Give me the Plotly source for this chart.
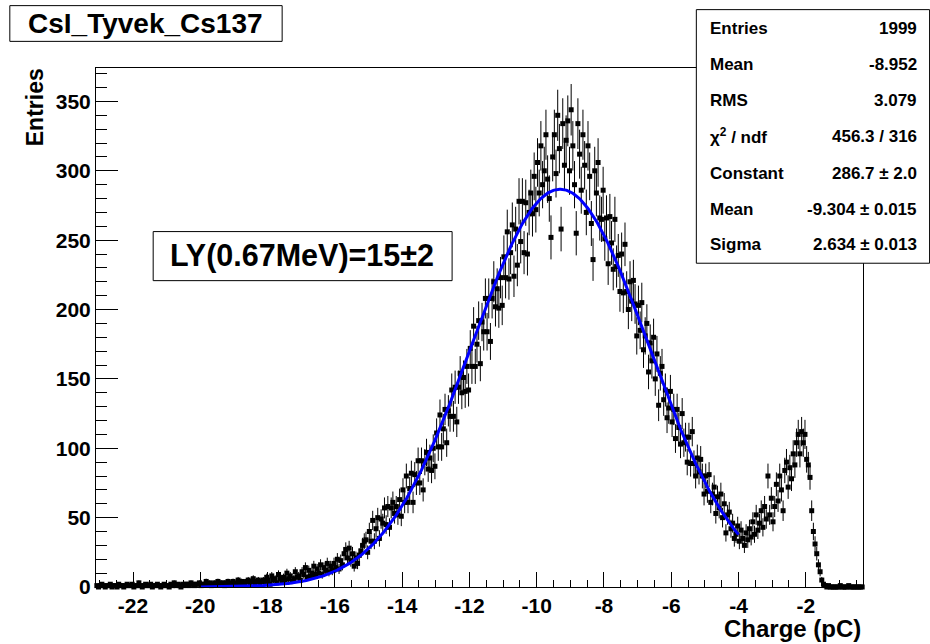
import numpy as np
import plotly.graph_objects as go

# ---------------- data ----------------
X_MIN = -23.1
X_MAX = -0.3
BIN_WIDTH = 0.05

# histogram contents, one row per 1 pC starting at X_MIN (20 bins of 0.05 pC each)
counts_rows = [
    [1, 0, 1, 2, 1, 0, 1, 1, 2, 0, 1, 1, 0, 2, 1, 1, 0, 1, 2, 1],
    [1, 2, 0, 1, 1, 3, 1, 0, 1, 2, 1, 1, 2, 0, 1, 1, 2, 1, 0, 1],
    [2, 1, 1, 0, 2, 1, 3, 1, 2, 1, 0, 2, 1, 2, 2, 1, 3, 2, 1, 2],
    [2, 3, 1, 2, 2, 4, 2, 3, 1, 2, 3, 2, 4, 3, 2, 3, 1, 3, 4, 2],
    [3, 4, 2, 3, 5, 3, 4, 3, 2, 4, 5, 3, 4, 6, 3, 4, 5, 3, 4, 5],
    [4, 7, 5, 2, 8, 5, 6, 3, 9, 6, 4, 7, 5, 10, 6, 8, 4, 6, 11, 7],
    [8, 5, 11, 9, 14, 7, 12, 8, 10, 15, 9, 13, 10, 16, 9, 14, 12, 17, 11, 15],
    [12, 17, 14, 20, 13, 19, 16, 24, 27, 21, 28, 19, 24, 15, 21, 17, 23, 26, 30, 33],
    [34, 25, 40, 33, 48, 33, 42, 50, 35, 49, 46, 57, 45, 58, 43, 57, 61, 53, 58, 52],
    [63, 51, 70, 61, 80, 61, 71, 82, 61, 81, 75, 91, 75, 91, 70, 90, 97, 85, 93, 84],
    [100, 87, 111, 101, 124, 101, 114, 128, 104, 127, 123, 142, 123, 144, 119, 144, 154, 140, 151, 141],
    [159, 142, 172, 159, 188, 159, 175, 192, 161, 191, 184, 208, 184, 208, 177, 208, 220, 202, 215, 201],
    [223, 203, 238, 223, 256, 222, 241, 261, 224, 258, 232, 278, 249, 278, 241, 277, 240, 270, 284, 269],
    [296, 272, 306, 284, 318, 290, 300, 326, 294, 280, 252, 310, 326, 298, 340, 316, 258, 334, 304, 322],
    [336, 300, 344, 318, 290, 255, 334, 312, 286, 326, 304, 270, 318, 296, 262, 236, 300, 284, 306, 266],
    [265, 286, 251, 266, 233, 267, 248, 229, 265, 231, 239, 213, 240, 212, 247, 213, 200, 220, 206, 221],
    [204, 181, 203, 185, 205, 171, 181, 190, 155, 176, 163, 180, 150, 168, 131, 154, 159, 135, 142, 122],
    [129, 141, 119, 128, 107, 128, 115, 103, 125, 104, 108, 90, 108, 89, 112, 89, 80, 93, 83, 92],
    [80, 67, 80, 69, 81, 61, 67, 72, 53, 65, 57, 67, 50, 60, 39, 52, 54, 42, 46, 35],
    [38, 44, 33, 41, 35, 30, 39, 34, 42, 36, 47, 38, 52, 41, 46, 55, 43, 58, 49, 80],
    [52, 64, 47, 58, 74, 62, 80, 70, 55, 84, 90, 72, 86, 78, 96, 88, 104, 110, 96, 112],
    [104, 110, 92, 88, 79, 55, 40, 31, 24, 16, 11, 5, 2, 1, 0, 1, 0, 0, 0, 0],
    [0, 0, 1, 0, 0, 0, 0, 1, 0, 0, 0, 0, 0, 0, 0, 0],
]

# Gaussian fit parameters (as given in the stats box)
FIT_CONSTANT = 286.7
FIT_MEAN = -9.304
FIT_SIGMA = 2.634
FIT_RANGE = (-20.0, -4.0)

x_tick_vals = [-22, -20, -18, -16, -14, -12, -10, -8, -6, -4, -2]
x_tick_text = ["-22", "-20", "-18", "-16", "-14", "-12", "-10", "-8", "-6", "-4", "-2"]
y_tick_vals = [0, 50, 100, 150, 200, 250, 300, 350]
y_tick_text = ["0", "50", "100", "150", "200", "250", "300", "350"]
Y_MAX = 374.1

title_text = "CsI_Tyvek_Cs137"
ly_text = "LY(0.67MeV)=15±2"
x_title = "Charge (pC)"
y_title = "Entries"
stat_labels = ["Entries", "Mean", "RMS", "χ<sup>2</sup> / ndf", "Constant", "Mean", "Sigma"]
stat_values = ["1999", "-8.952", "3.079", "456.3 / 316", "286.7 ± 2.0", "-9.304 ± 0.015", "2.634 ± 0.013"]

# ---------------- build ----------------
counts = np.array([v for row in counts_rows for v in row], dtype=float)
centers = X_MIN + BIN_WIDTH * (np.arange(len(counts)) + 0.5)
errors = np.sqrt(counts)

xf = np.linspace(FIT_RANGE[0], FIT_RANGE[1], 600)
yf = FIT_CONSTANT * np.exp(-0.5 * ((xf - FIT_MEAN) / FIT_SIGMA) ** 2)

W, H = 930, 644
L, R, T, B = 95.5, 862.7, 68.3, 586.7


def px(x):
    return (x - L) / (R - L)


def py(y):
    return (B - y) / (B - T)


FONT = "Liberation Sans, Arial, Helvetica, sans-serif"

fig = go.Figure()
fig.add_trace(go.Scatter(
    x=centers, y=counts, mode="markers",
    marker=dict(symbol="square", size=5, color="black", line=dict(width=0)),
    error_y=dict(type="data", array=errors, visible=True, width=0, thickness=1, color="black"),
    cliponaxis=False, hoverinfo="skip",
))
fig.add_trace(go.Scatter(
    x=xf, y=yf, mode="lines", line=dict(color="#0000ff", width=3), hoverinfo="skip",
))

axis_common = dict(
    showline=True, linecolor="black", linewidth=1, mirror=True,
    showgrid=False, zeroline=False, ticks="inside", tickcolor="black", tickwidth=1,
    tickfont=dict(family=FONT, size=21, color="black", weight="bold"),
)
fig.update_xaxes(
    range=[X_MIN, X_MAX], tickmode="array", tickvals=x_tick_vals, ticktext=x_tick_text,
    ticklen=15, minor=dict(tick0=-22, dtick=0.5, ticks="inside", ticklen=7.5,
                           tickcolor="black", tickwidth=1, showgrid=False),
    **axis_common,
)
fig.update_yaxes(
    range=[0, Y_MAX], tickmode="array", tickvals=y_tick_vals, ticktext=y_tick_text,
    ticklen=22.3, minor=dict(tick0=0, dtick=10, ticks="inside", ticklen=11.3,
                             tickcolor="black", tickwidth=1, showgrid=False),
    **axis_common,
)

shapes = []
for (x0, x1, y0, y1) in [(9.3, 281.7, 6.0, 41.7), (696.0, 929.3, 10.0, 263.3), (152.7, 451.7, 231.7, 280.7)]:
    shapes.append(dict(type="rect", xref="paper", yref="paper",
                       x0=px(x0), x1=px(x1), y0=py(y1), y1=py(y0),
                       line=dict(color="black", width=1), fillcolor="white", layer="above"))

annotations = [
    dict(text="<b>%s</b>" % title_text, x=px(145), y=py(24), xanchor="center", yanchor="middle",
         font=dict(family=FONT, size=28, color="black")),
    dict(text="<b>%s</b>" % ly_text, x=px(301.5), y=py(256), xanchor="center", yanchor="middle",
         font=dict(family=FONT, size=30.5, color="black")),
    dict(text="<b>%s</b>" % y_title, x=px(34), y=py(108), xanchor="center", yanchor="middle",
         textangle=-90, font=dict(family=FONT, size=23, color="black")),
    dict(text="<b>%s</b>" % x_title, x=px(862.7), y=py(628), xanchor="right", yanchor="middle",
         font=dict(family=FONT, size=24, color="black")),
]
row_y = [29.3, 65.0, 100.7, 136.7, 173.3, 210.0, 245.0]
for lab, val, yy in zip(stat_labels, stat_values, row_y):
    annotations.append(dict(text="<b>%s</b>" % lab, x=px(707.3), y=py(yy), xanchor="left", yanchor="middle",
                            font=dict(family=FONT, size=17, color="black")))
    annotations.append(dict(text="<b>%s</b>" % val, x=px(918.3), y=py(yy), xanchor="right", yanchor="middle",
                            font=dict(family=FONT, size=17, color="black")))
for a in annotations:
    a.update(xref="paper", yref="paper", showarrow=False)

fig.update_layout(
    width=W, height=H,
    margin=dict(l=L, r=W - R, t=T, b=H - B, pad=0, autoexpand=False),
    paper_bgcolor="white", plot_bgcolor="white", showlegend=False,
    font=dict(family=FONT, color="black"),
    shapes=shapes, annotations=annotations,
)

fig.write_html("out.html", config={"displayModeBar": False})
